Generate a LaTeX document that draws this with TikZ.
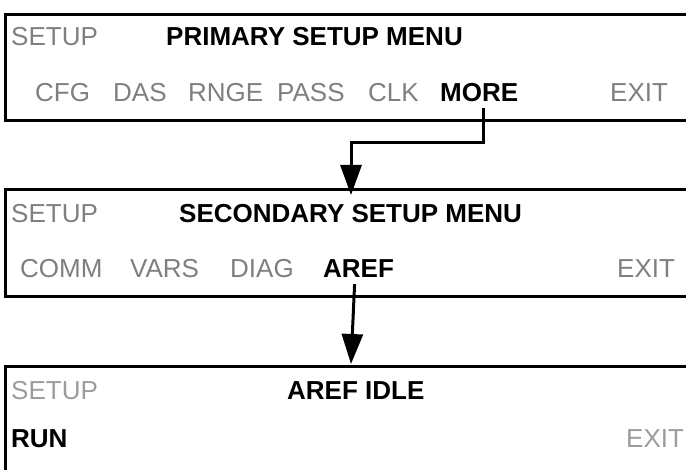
\documentclass[tikz,border=0pt]{standalone}
\usepackage{fontspec}
\setmainfont{Liberation Sans}
\usetikzlibrary{arrows.meta}
\definecolor{dimtext}{HTML}{7F7F7F}
\definecolor{paletext}{HTML}{9C9C9C}
\tikzset{
  screen/.style={draw=black, line width=3pt, anchor=north west, inner sep=0pt, fill=none},
  lbl/.style={anchor=base west, inner sep=0pt, font=\fontsize{26}{30}\selectfont},
  dim/.style={lbl, text=dimtext},
  pale/.style={lbl, text=paletext},
  key/.style={lbl, text=black, font=\fontsize{26}{30}\selectfont\bfseries},
  arr/.style={line width=3pt, -{Triangle[width=21pt,length=30pt]}},
}
\begin{document}
\begin{tikzpicture}[x=1pt,y=-1pt]
\useasboundingbox (0,0) rectangle (686,470);
\clip (0,0) rectangle (686,470);
% screens
\node[screen, minimum width=700pt, minimum height=106pt] (box1) at (4,13) {};
\node[screen, minimum width=700pt, minimum height=107pt] (box2) at (4,188) {};
\node[screen, line width=2.6pt, minimum width=700pt, minimum height=150pt] (box3) at (4,365) {};
% screen 1
\node[dim] (s1) at (11,46) {SETUP};
\node[key] (t1) at (166,46) {PRIMARY SETUP MENU};
\node[dim] (cfg) at (35,102) {CFG};
\node[dim] (das) at (113,102) {DAS};
\node[dim] (rnge) at (188,102) {RNGE};
\node[dim] (pass) at (277,102) {PASS};
\node[dim] (clk) at (368,102) {CLK};
\node[key] (more) at (440,102) {MORE};
\node[dim] (exit1) at (610,102) {EXIT};
% screen 2
\node[dim] (s2) at (11,223) {SETUP};
\node[key] (t2) at (179,223) {SECONDARY SETUP MENU};
\node[dim] (comm) at (20,278) {COMM};
\node[dim] (vars) at (130,278) {VARS};
\node[dim] (diag) at (230,278) {DIAG};
\node[key] (aref) at (323,278) {AREF};
\node[dim] (exit2) at (617,278) {EXIT};
% screen 3
\node[pale] (s3) at (11,400) {SETUP};
\node[key] (t3) at (287,400) {AREF IDLE};
\node[key] (run) at (11,447) {RUN};
\node[pale] (exit3) at (626,447) {EXIT};
% connectors
\coordinate (tipA) at (351,195);
\coordinate (tipB) at (351,364);
\draw[arr] ([xshift=4pt,yshift=-6pt]more.south) |- (351,143) -- (tipA);
\draw[arr] ([xshift=-4pt,yshift=-6pt]aref.south) -- (tipB);
\end{tikzpicture}
\end{document}
